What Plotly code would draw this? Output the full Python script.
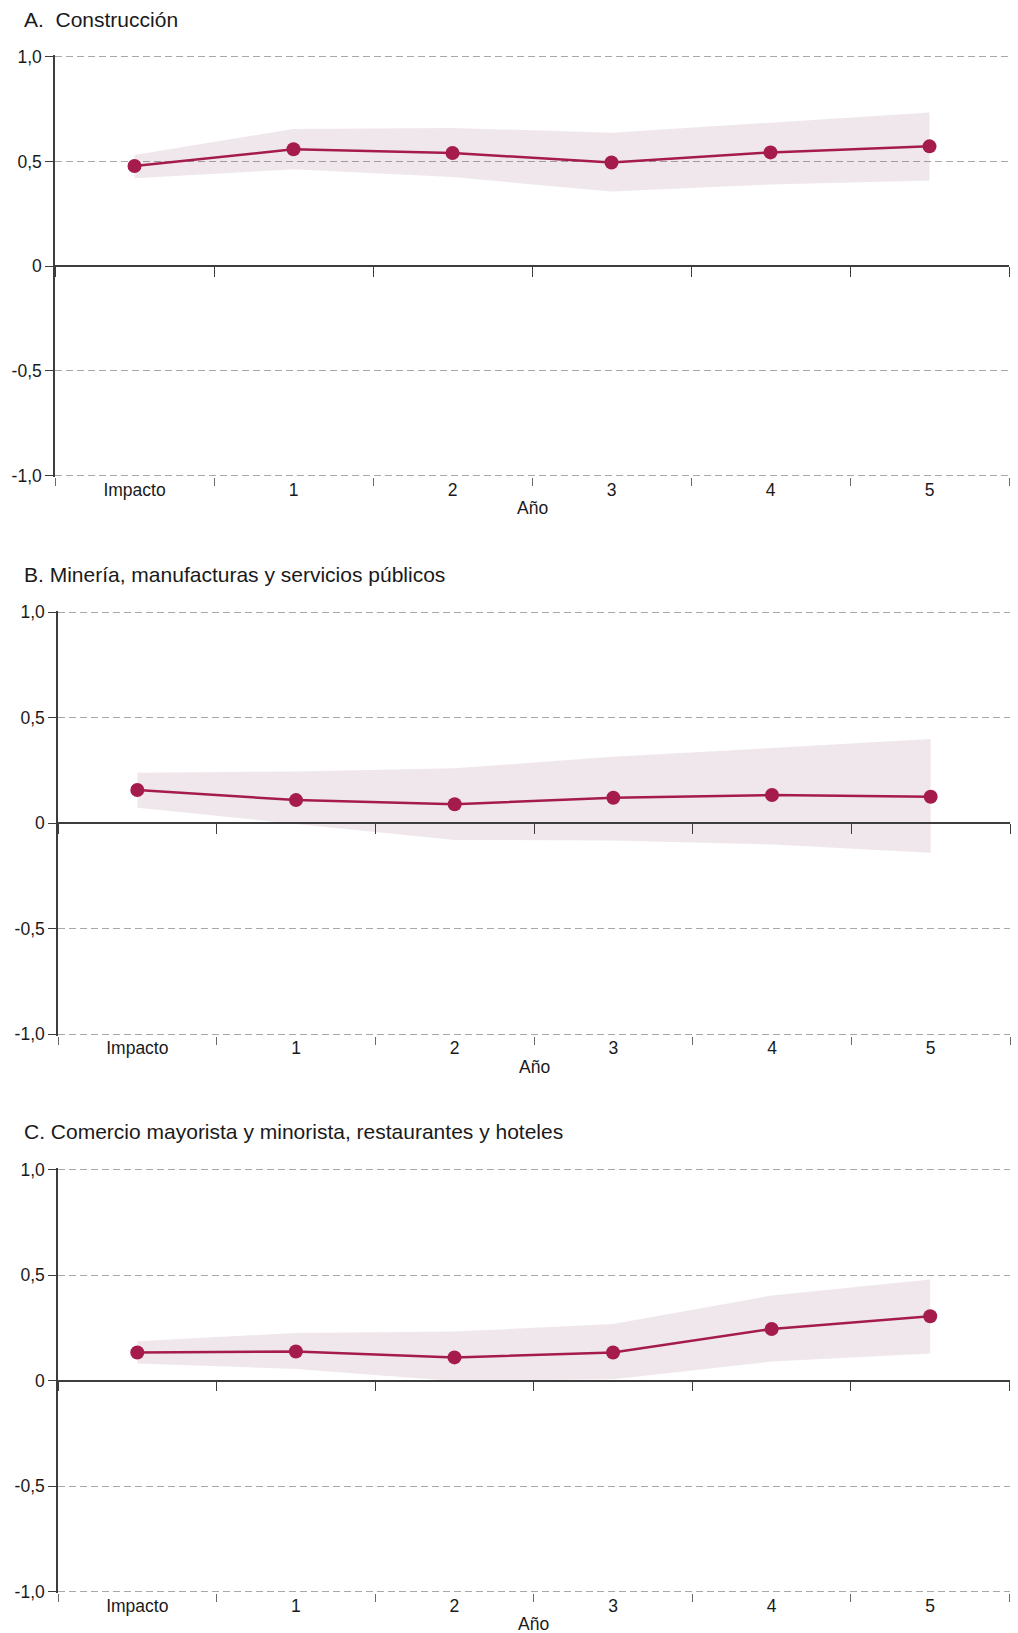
import plotly.graph_objects as go

# Horizon labels (x axis)
YEARS = ["Impacto", "1", "2", "3", "4", "5"]

# A. Construcción: point estimate and confidence band
CONSTRUCCION_EST = [0.478, 0.558, 0.540, 0.495, 0.543, 0.572]
CONSTRUCCION_SUP = [0.530, 0.655, 0.660, 0.637, 0.685, 0.733]
CONSTRUCCION_INF = [0.420, 0.462, 0.425, 0.356, 0.390, 0.409]

# B. Minería, manufacturas y servicios públicos
MINERIA_EST = [0.158, 0.110, 0.090, 0.121, 0.134, 0.126]
MINERIA_SUP = [0.240, 0.246, 0.261, 0.315, 0.357, 0.400]
MINERIA_INF = [0.074, -0.003, -0.079, -0.081, -0.100, -0.139]

# C. Comercio mayorista y minorista, restaurantes y hoteles
COMERCIO_EST = [0.133, 0.138, 0.110, 0.133, 0.245, 0.305]
COMERCIO_SUP = [0.186, 0.226, 0.233, 0.268, 0.403, 0.479]
COMERCIO_INF = [0.081, 0.055, -0.002, 0.006, 0.090, 0.128]

Y_TICKVALS = [-1.0, -0.5, 0.0, 0.5, 1.0]
Y_TICKTEXT = ["-1,0", "-0,5", "0", "0,5", "1,0"]

TITLES = [
    "A.\u00a0 Construcción",
    "B. Minería, manufacturas y servicios públicos",
    "C. Comercio mayorista y minorista, restaurantes y hoteles",
]
X_TITLE = "Año"

SERIES = [
    (CONSTRUCCION_EST, CONSTRUCCION_SUP, CONSTRUCCION_INF),
    (MINERIA_EST, MINERIA_SUP, MINERIA_INF),
    (COMERCIO_EST, COMERCIO_SUP, COMERCIO_INF),
]

W, H = 1018, 1633
FONT = "Liberation Sans, Arial, sans-serif"
LINE_COLOR = "#a51c4c"
BAND_COLOR = "rgba(120,60,100,0.12)"
AXIS_COLOR = "#3d3d3d"
GRID_COLOR = "#a8a8a8"
TEXT_COLOR = "#1a1a1a"

# panel frames in pixels: left, right, y of 1,0, y of -1,0, title centre
FRAMES = [
    (55, 1009, 56.7, 475.5, 19),
    (58, 1010, 612.3, 1034.3, 574),
    (58, 1009.5, 1169.7, 1591.5, 1131),
]
Y_PAD = 0.008  # keeps the ±1,0 gridlines inside the plotting area

fig = go.Figure()
layout = dict(
    width=W,
    height=H,
    template="none",
    margin=dict(l=0, r=0, t=0, b=0),
    paper_bgcolor="white",
    plot_bgcolor="rgba(0,0,0,0)",
    showlegend=False,
    font=dict(family=FONT, size=17.5, color=TEXT_COLOR),
    annotations=[],
)

for i, ((est, sup, inf), title, frame) in enumerate(zip(SERIES, TITLES, FRAMES)):
    n = i + 1
    ov = i + 4
    left, right, top, bottom, title_y = frame
    half = (bottom - top) / 2.0
    top_e = top - Y_PAD * half
    bot_e = bottom + Y_PAD * half
    xdom = [left / W, right / W]
    ydom = [1 - bot_e / H, 1 - top_e / H]

    xs = "" if n == 1 else str(n)
    # confidence band on the main subplot
    fig.add_trace(go.Scatter(
        x=YEARS + YEARS[::-1],
        y=sup + inf[::-1],
        fill="toself",
        fillcolor=BAND_COLOR,
        mode="lines",
        line=dict(width=0, color=BAND_COLOR),
        hoverinfo="skip",
        xaxis="x" + xs,
        yaxis="y" + xs,
    ))
    # point estimates on the overlay axis that carries the zero line
    fig.add_trace(go.Scatter(
        x=YEARS,
        y=est,
        mode="lines+markers",
        line=dict(color=LINE_COLOR, width=2.5),
        marker=dict(color=LINE_COLOR, size=14),
        xaxis="x" + str(ov),
        yaxis="y" + xs,
    ))

    layout["xaxis" + xs] = dict(
        domain=xdom,
        anchor="y" + xs,
        type="category",
        categoryorder="array",
        categoryarray=YEARS,
        range=[-0.5, 5.5],
        tickson="boundaries",
        ticks="outside",
        ticklen=8,
        tickwidth=1.2,
        tickcolor="#6a6a6a",
        showline=False,
        showgrid=False,
        zeroline=False,
        tickfont=dict(family=FONT, size=17.5, color=TEXT_COLOR),
    )
    layout["xaxis" + str(ov)] = dict(
        domain=xdom,
        overlaying="x" + xs,
        anchor="free",
        position=(ydom[0] + ydom[1]) / 2.0,
        type="category",
        categoryorder="array",
        categoryarray=YEARS,
        range=[-0.5, 5.5],
        tickson="boundaries",
        ticks="outside",
        ticklen=10,
        tickwidth=1.4,
        tickcolor=AXIS_COLOR,
        showline=True,
        linecolor=AXIS_COLOR,
        linewidth=1.6,
        showticklabels=False,
        showgrid=False,
        zeroline=False,
    )
    layout["yaxis" + xs] = dict(
        domain=ydom,
        anchor="x" + xs,
        range=[-1 - Y_PAD, 1 + Y_PAD],
        tickmode="array",
        tickvals=Y_TICKVALS,
        ticktext=Y_TICKTEXT,
        ticks="outside",
        ticklen=8,
        tickwidth=1.3,
        tickcolor=AXIS_COLOR,
        showline=True,
        linecolor=AXIS_COLOR,
        linewidth=1.5,
        showgrid=True,
        gridcolor=GRID_COLOR,
        gridwidth=1.2,
        griddash="7px,4px",
        zeroline=False,
        tickfont=dict(family=FONT, size=17.5, color=TEXT_COLOR),
    )

    layout["annotations"].append(dict(
        text=title,
        xref="paper", yref="paper",
        x=22 / W, y=1 - title_y / H,
        xanchor="left", yanchor="middle",
        showarrow=False,
        font=dict(family=FONT, size=21, color=TEXT_COLOR),
    ))
    layout["annotations"].append(dict(
        text=X_TITLE,
        xref="x" + xs + " domain", yref="y" + xs + " domain",
        x=0.5, y=0,
        xanchor="center", yanchor="middle",
        yshift=-31,
        showarrow=False,
        font=dict(family=FONT, size=17.5, color=TEXT_COLOR),
    ))

fig.update_layout(**layout)
fig.write_html("out.html")
